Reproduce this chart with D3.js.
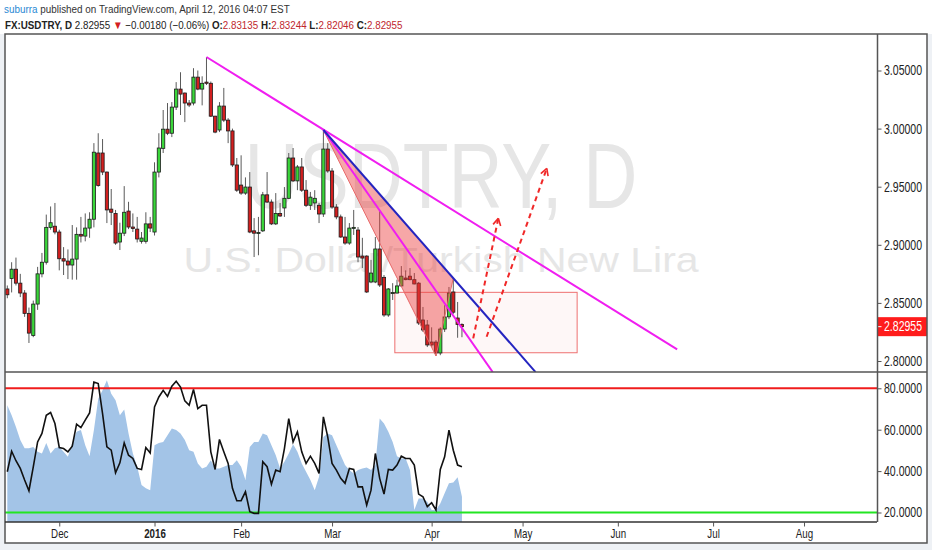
<!DOCTYPE html>
<html>
<head>
<meta charset="utf-8">
<script src="https://cdn.jsdelivr.net/npm/d3@7"></script>
<style>
  html, body { margin: 0; padding: 0; background: #eef1f5; }
  svg { display: block; }
</style>
</head>
<body>
<svg id="chart" width="932" height="550"></svg>
<script>
// USDTRY daily candles, 13 Nov 2015 - 12 Apr 2016

const FIRST_DAY = "2015-11-13";
const LAST_DAY = "2016-08-31";
const HOLIDAYS = ["2015-12-25", "2016-01-01"];

const OPEN = [
  2.862, 2.871, 2.879, 2.867, 2.8585, 2.841, 2.822, 2.849, 2.875, 2.885,
  2.915, 2.916, 2.911, 2.888, 2.886, 2.8826, 2.8877, 2.909, 2.9075, 2.9144,
  2.922, 2.979, 2.979, 2.9626, 2.9307, 2.927, 2.9024, 2.910, 2.929, 2.9153,
  2.9135, 2.903, 2.903, 2.918, 2.911, 2.9626, 2.983, 2.9995, 2.996, 3.0185,
  3.034, 3.0306, 3.022, 3.022, 3.0443, 3.034, 3.040, 3.039, 3.0107, 2.9988,
  3.0194, 3.0073, 2.998, 2.9687, 2.9514, 2.9445, 2.9497, 2.912, 2.910, 2.912,
  2.943, 2.9368, 2.918, 2.927, 2.9317, 2.940, 2.9747, 2.955, 2.967, 2.947,
  2.934, 2.936, 2.934, 2.9265, 2.9824, 2.9635, 2.9325, 2.924, 2.9067, 2.9015,
  2.9144, 2.9127, 2.8903, 2.8903, 2.868, 2.868, 2.8964, 2.872, 2.8396, 2.858,
  2.8585, 2.8646, 2.8714, 2.873, 2.870, 2.867, 2.8353, 2.831, 2.8163, 2.8163,
  2.8069, 2.8275, 2.838, 2.8594, 2.837, 2.83135
];
const HIGH = [
  2.865, 2.885, 2.889, 2.875, 2.861, 2.846, 2.852, 2.881, 2.893, 2.926,
  2.933, 2.936, 2.913, 2.898, 2.896, 2.917, 2.915, 2.924, 2.927, 2.928,
  2.9875, 2.996, 2.991, 2.963, 2.948, 2.930, 2.919, 2.9505, 2.937, 2.927,
  2.924, 2.911, 2.928, 2.924, 2.971, 2.996, 3.016, 3.022, 3.0228, 3.040,
  3.0485, 3.031, 3.0246, 3.052, 3.050, 3.045, 3.0616, 3.0405, 3.011, 3.0228,
  3.035, 3.009, 3.000, 2.9747, 2.977, 2.958, 2.9626, 2.923, 2.924, 2.9455,
  2.9626, 2.939, 2.9445, 2.936, 2.9497, 2.979, 2.9833, 2.9687, 2.9747, 2.9557,
  2.9455, 2.947, 2.936, 2.9988, 2.9875, 2.966, 2.935, 2.926, 2.924, 2.9187,
  2.930, 2.9153, 2.906, 2.891, 2.887, 2.9067, 2.929, 2.874, 2.8628, 2.867,
  2.870, 2.8817, 2.878, 2.880, 2.8757, 2.868, 2.8465, 2.8353, 2.829, 2.818,
  2.829, 2.848, 2.8637, 2.870, 2.8508, 2.83244
];
const LOW = [
  2.854, 2.859, 2.865, 2.855, 2.838, 2.8155, 2.8205, 2.844, 2.872, 2.883,
  2.913, 2.909, 2.878, 2.874, 2.8705, 2.870, 2.870, 2.902, 2.903, 2.906,
  2.915, 2.950, 2.960, 2.9187, 2.917, 2.900, 2.8955, 2.9075, 2.9135, 2.911,
  2.902, 2.901, 2.901, 2.911, 2.908, 2.958, 2.979, 2.9944, 2.9927, 3.016,
  3.0117, 3.0056, 3.0185, 3.020, 3.033, 3.020, 3.0375, 3.010, 2.996, 2.997,
  3.0056, 2.9875, 2.967, 2.9455, 2.943, 2.943, 2.910, 2.8895, 2.891, 2.911,
  2.936, 2.917, 2.917, 2.924, 2.924, 2.9395, 2.954, 2.947, 2.9455, 2.9325,
  2.930, 2.930, 2.9187, 2.924, 2.962, 2.931, 2.922, 2.906, 2.900, 2.900,
  2.9085, 2.885, 2.880, 2.8585, 2.867, 2.867, 2.8637, 2.838, 2.838, 2.8525,
  2.858, 2.8637, 2.8695, 2.8695, 2.866, 2.831, 2.825, 2.812, 2.812, 2.8043,
  2.805, 2.825, 2.836, 2.8405, 2.820, 2.82046
];
const CLOSE = [
  2.857, 2.879, 2.867, 2.8585, 2.841, 2.824, 2.849, 2.875, 2.885, 2.915,
  2.919, 2.911, 2.888, 2.886, 2.8826, 2.8877, 2.909, 2.9075, 2.9144, 2.922,
  2.9797, 2.951, 2.9626, 2.930, 2.928, 2.9015, 2.910, 2.928, 2.9153, 2.914,
  2.905, 2.9058, 2.918, 2.9144, 2.9626, 2.9833, 2.9995, 2.996, 3.0185, 3.034,
  3.0297, 3.022, 3.0203, 3.0443, 3.034, 3.039, 3.039, 3.0107, 2.997, 3.0194,
  3.0073, 2.998, 2.9687, 2.947, 2.9445, 2.9497, 2.911, 2.910, 2.9105, 2.943,
  2.9368, 2.918, 2.927, 2.9248, 2.940, 2.9747, 2.955, 2.967, 2.947, 2.934,
  2.941, 2.940, 2.9265, 2.9824, 2.9635, 2.9325, 2.924, 2.9067, 2.9015, 2.9144,
  2.915, 2.8895, 2.8886, 2.8594, 2.8757, 2.8964, 2.8654, 2.8396, 2.862, 2.859,
  2.8646, 2.873, 2.870, 2.870, 2.8663, 2.8327, 2.8267, 2.8138, 2.8138, 2.8069,
  2.8275, 2.8379, 2.8585, 2.842, 2.8315, 2.82955
];

// oscillator pane: black line and blue filled series
const OSC_LINE = [
  39.7, 49.6, 45, 41.3, 35.7, 30.5, 42, 54.1, 58.2, 67,
  68.3, 63, 51.4, 50.9, 49.3, 52, 62.7, 61, 64.6, 68.1,
  83, 82.3, 67.8, 51.7, 50.1, 39.2, 44, 53.6, 47.7, 46.1,
  41.3, 40.8, 51.4, 48.8, 71, 75.8, 79, 76.1, 81, 83.4,
  80.6, 73.9, 71.8, 79.4, 70.2, 71.8, 71.8, 49.3, 40.8, 55.3,
  49.3, 43.7, 31.7, 25.7, 25.7, 30, 20.4, 19.6, 19.6, 44.5,
  42.1, 33.7, 40.5, 39.7, 50.9, 65.4, 54.1, 59, 49.3, 43.7,
  47.2, 43.7, 38.9, 66.2, 56.5, 43.7, 40.5, 36.5, 34.1, 41.3,
  40.8, 32.4, 32.4, 23.6, 30.8, 48.5, 36.5, 28.9, 40.8, 40.5,
  42.9, 47.2, 46.1, 46.1, 42.9, 28.9, 27.6, 22.8, 24.7, 21.2,
  40.8, 46.9, 59.8, 50.1, 42.9, 42.1
];
const OSC_AREA = [
  71.8, 67, 61.3, 55, 51, 51, 51.7, 49.3, 48.5, 53.6,
  48.5, 51, 51.7, 49.3, 46.9, 53.6, 59, 59.8, 52.5, 47.2,
  59.8, 75, 79, 83.9, 77.4, 74.2, 67, 69.7, 58.2, 48.5,
  42.1, 33.3, 31.7, 30.8, 52.5, 53.6, 54.1, 57.3, 60.6, 59.8,
  58.2, 55, 50.1, 49.3, 43.7, 41.3, 42.1, 45.3, 41.3, 41.3,
  42.1, 42.9, 42.9, 45.3, 42.1, 35.7, 51.7, 54.1, 54.1, 58.2,
  57.3, 52.5, 47.7, 41.3, 44.5, 48.5, 53, 49.3, 43.7, 39.7,
  35.7, 30.8, 37.3, 56.5, 58.2, 57.3, 52.5, 47.7, 42.9, 40.5,
  38.9, 40.5, 41.3, 41.7, 40.5, 42.9, 65.4, 63, 59, 54.1,
  47.2, 46.1, 46.1, 40.5, 21.2, 26.8, 26.8, 25.2, 21.2, 21.2,
  24.4, 29.3, 34.1, 34.5, 37, 27.6
];
const OSC_LEVELS = [80, 20];

// axis ticks
const PRICE_TICKS = [2.80, 2.85, 2.90, 2.95, 3.00, 3.05];
const OSC_TICKS = [20, 40, 60, 80];
const TICK_DATES = ["2015-12-01", "2016-01-04", "2016-02-01", "2016-03-01", "2016-04-01",
                    "2016-05-02", "2016-06-01", "2016-07-01", "2016-08-01"];
const TICK_LABELS = ["Dec", "2016", "Feb", "Mar", "Apr", "May", "Jun", "Jul", "Aug"];

// drawings, anchored at [bar index, price]
const UPPER_TREND = [[46, 3.0616], [154.7, 2.8100]];
const INNER_TREND = [[73, 2.9988], [112.1, 2.7905]];
const BLUE_TREND = [[73, 2.9988], [122, 2.7905]];
const TRIANGLE = [[73, 2.9988], [99, 2.8043], [103, 2.8713]];
const BOX = [[89.5, 2.8591], [131.6, 2.8071]];
const ARROW_1 = [[107.6, 2.8195], [113.4, 2.9228]];
const ARROW_2 = [[110.7, 2.8209], [124.6, 2.9658]];

// header
const AUTHOR = "suburra";
const PUBLISHED = " published on TradingView.com, April 12, 2016 04:07 EST";
const SYMBOL = "USDTRY";
const INTERVAL = "D";
const DESCRIPTION = "U.S. Dollar/Turkish New Lira";
const CHANGE_TEXT = " \u22120.00180 (\u22120.06%) ";
const QUOTE_LABELS = ["O", "H", "L", "C"];
const QUOTE_VALUES = ["2.83135", "2.83244", "2.82046", "2.82955"];

const FONT = '"Liberation Sans", Arial, Helvetica, sans-serif';
const UP = "#3ad63a", DOWN = "#d21f1f";
const MAGENTA = "#f01ef0", NAVY = "#2424c0";

const W = 932, H = 550;
const L = 5, R = 877, TOP = 34, MID = 372, BOT = 522, FR = 927, FB = 543;

const parse = d3.timeParse("%Y-%m-%d"), fmt = d3.timeFormat("%Y-%m-%d");
const days = d3.timeDay.range(parse(FIRST_DAY), d3.timeDay.offset(parse(LAST_DAY), 1))
  .filter(d => d.getDay() !== 0 && d.getDay() !== 6 && !HOLIDAYS.includes(fmt(d)))
  .map(fmt);
const dayIndex = new Map(days.map((d, i) => [d, i]));

const x = d3.scaleLinear().domain([0, 200]).range([7.3, 873.3]);
const yP = d3.scaleLinear().domain([2.80, 3.05]).range([361, 70.5]);
const yO = d3.scaleLinear().domain([20, 80]).range([512.5, 388.3]);

const svg = d3.select("#chart").attr("font-family", FONT);

// squeeze a text horizontally to a given width, about anchor ax
function fitWidth(sel, ax, target) {
  const w = sel.node().getBBox().width;
  if (w > 0) sel.attr("transform", `translate(${ax},0) scale(${target / w},1) translate(${-ax},0)`);
}

// backgrounds
svg.append("rect").attr("width", W).attr("height", H).attr("fill", "#eef1f5");
svg.append("rect").attr("width", W).attr("height", TOP).attr("fill", "#ffffff");
svg.append("rect").attr("x", L).attr("y", TOP).attr("width", FR - L).attr("height", FB - TOP).attr("fill", "#ffffff");

const defs = svg.append("defs");
defs.append("clipPath").attr("id", "clipPrice").append("rect")
  .attr("x", L).attr("y", TOP).attr("width", R - L).attr("height", MID - TOP);
defs.append("clipPath").attr("id", "clipOsc").append("rect")
  .attr("x", L).attr("y", MID).attr("width", R - L).attr("height", BOT - MID);

// header
const h1 = svg.append("text").attr("x", 4).attr("y", 13.5).attr("font-size", 11.5);
h1.append("tspan").attr("fill", "#2a8ad4").text(AUTHOR);
h1.append("tspan").attr("fill", "#333").text(PUBLISHED);
fitWidth(h1, 4, 286);

const h2 = svg.append("text").attr("x", 5).attr("y", 29.3).attr("font-size", 11.5).attr("fill", "#222");
h2.append("tspan").attr("font-weight", "bold").text(`FX:${SYMBOL}, ${INTERVAL}`);
h2.append("tspan").text("  " + QUOTE_VALUES[3] + " ");
h2.append("tspan").attr("fill", "#d32020").text("\u25BC");
h2.append("tspan").text(CHANGE_TEXT);
QUOTE_LABELS.forEach((lab, k) => {
  h2.append("tspan").attr("font-weight", "bold").text((k ? " " : "") + lab + ":");
  h2.append("tspan").attr("fill", "#c0262d").text(QUOTE_VALUES[k]);
});
fitWidth(h2, 5, 398);

// watermark
const cx = (L + R) / 2;
const wm = svg.append("g").attr("clip-path", "url(#clipPrice)").attr("fill", "#e6e6e6");
const wm1 = wm.append("text").attr("x", cx).attr("y", 208).attr("text-anchor", "middle")
  .attr("font-size", 93).text(`${SYMBOL}, ${INTERVAL}`);
fitWidth(wm1, cx, 393);
const wm2 = wm.append("text").attr("x", cx).attr("y", 272).attr("text-anchor", "middle")
  .attr("font-size", 35).text(DESCRIPTION);
fitWidth(wm2, cx, 516);

// price pane
const price = svg.append("g").attr("clip-path", "url(#clipPrice)");

price.append("rect")
  .attr("x", x(BOX[0][0])).attr("y", yP(BOX[0][1]))
  .attr("width", x(BOX[1][0]) - x(BOX[0][0])).attr("height", yP(BOX[1][1]) - yP(BOX[0][1]))
  .attr("fill", "rgba(240,90,90,0.05)").attr("stroke", "#ee7070").attr("stroke-width", 1);

const idx = d3.range(OPEN.length);
price.selectAll("line.wick").data(idx).join("line").attr("class", "wick")
  .attr("x1", i => x(i)).attr("x2", i => x(i))
  .attr("y1", i => yP(HIGH[i])).attr("y2", i => yP(LOW[i]))
  .attr("stroke", "#5a5a5a").attr("stroke-width", 1);
price.selectAll("rect.body").data(idx).join("rect").attr("class", "body")
  .attr("x", i => x(i) - 1.6).attr("width", 3.2)
  .attr("y", i => yP(Math.max(OPEN[i], CLOSE[i])))
  .attr("height", i => Math.max(1, Math.abs(yP(OPEN[i]) - yP(CLOSE[i]))))
  .attr("fill", i => CLOSE[i] >= OPEN[i] ? UP : DOWN)
  .attr("stroke", "#1b1b1b").attr("stroke-width", 0.8);

const pt = d => [x(d[0]), yP(d[1])];
const line = d3.line().x(d => x(d[0])).y(d => yP(d[1]));

price.append("path").attr("d", line(TRIANGLE) + "Z")
  .attr("fill", "rgba(236,60,60,0.45)").attr("stroke", "#e86a6a").attr("stroke-width", 1);

[[UPPER_TREND, MAGENTA], [INNER_TREND, MAGENTA], [BLUE_TREND, NAVY]].forEach(([pts, col]) => {
  price.append("path").attr("d", line(pts)).attr("fill", "none")
    .attr("stroke", col).attr("stroke-width", 2);
});

[ARROW_1, ARROW_2].forEach(a => {
  const [x0, y0] = pt(a[0]), [x1, y1] = pt(a[1]);
  price.append("line").attr("x1", x0).attr("y1", y0).attr("x2", x1).attr("y2", y1)
    .attr("stroke", "#f02828").attr("stroke-width", 2).attr("stroke-dasharray", "5,4");
  const ang = Math.atan2(y1 - y0, x1 - x0);
  [0.5, -0.5].forEach(s => {
    price.append("line").attr("x1", x1).attr("y1", y1)
      .attr("x2", x1 - 8 * Math.cos(ang + s)).attr("y2", y1 - 8 * Math.sin(ang + s))
      .attr("stroke", "#f02828").attr("stroke-width", 1.6);
  });
});

// oscillator pane
const osc = svg.append("g").attr("clip-path", "url(#clipOsc)");
osc.append("path")
  .attr("d", d3.area().x((d, i) => x(i)).y0(BOT).y1(d => yO(d))(OSC_AREA))
  .attr("fill", "#a3c4e7");
osc.selectAll("line.level").data(OSC_LEVELS).join("line").attr("class", "level")
  .attr("x1", L).attr("x2", R).attr("y1", d => yO(d)).attr("y2", d => yO(d))
  .attr("stroke", (d, i) => i ? "#22e622" : "#f01c1c").attr("stroke-width", 2);
osc.append("path")
  .attr("d", d3.line().x((d, i) => x(i)).y(d => yO(d))(OSC_LINE))
  .attr("fill", "none").attr("stroke", "#111").attr("stroke-width", 1.6);

// axes
function styleRightAxis(g, width) {
  g.attr("font-family", FONT).attr("font-size", 14);
  g.select(".domain").remove();
  g.selectAll(".tick line").attr("stroke", "#555");
  g.selectAll(".tick text").attr("fill", "#222").attr("x", 6.5)
    .each(function () { fitWidth(d3.select(this), 6.5, width); });
}
const gPrice = svg.append("g").attr("transform", `translate(${R + 0.5},0)`)
  .call(d3.axisRight(yP).tickValues(PRICE_TICKS).tickFormat(d3.format(".5f")).tickSize(4).tickPadding(3));
styleRightAxis(gPrice, 38.3);
const gOsc = svg.append("g").attr("transform", `translate(${R + 0.5},0)`)
  .call(d3.axisRight(yO).tickValues(OSC_TICKS).tickFormat(d3.format(".4f")).tickSize(4).tickPadding(3));
styleRightAxis(gOsc, 38.3);

const tickIdx = TICK_DATES.map(d => dayIndex.get(d));
const gTime = svg.append("g").attr("transform", `translate(0,${BOT + 0.5})`)
  .call(d3.axisBottom(x).tickValues(tickIdx).tickFormat((d, k) => TICK_LABELS[k]).tickSize(4).tickPadding(3));
gTime.attr("font-family", FONT).attr("font-size", 12.5);
gTime.select(".domain").remove();
gTime.selectAll(".tick line").attr("stroke", "#555");
gTime.selectAll(".tick text").attr("fill", "#222")
  .attr("font-weight", (d, k) => TICK_LABELS[k] === "2016" ? "bold" : null)
  .attr("transform", "scale(0.78,1)");

// last price marker
const lastY = yP(CLOSE[CLOSE.length - 1]);
svg.append("rect").attr("x", R + 1).attr("y", lastY - 9.5).attr("width", FR - R - 1).attr("height", 19)
  .attr("fill", "#ff1c1c");
svg.append("line").attr("x1", R + 0.5).attr("x2", R + 4.5).attr("y1", lastY).attr("y2", lastY).attr("stroke", "#fff");
const lastTxt = svg.append("text").attr("x", R + 7).attr("y", lastY).attr("dy", "0.32em")
  .attr("font-size", 14).attr("fill", "#fff").text(d3.format(".5f")(CLOSE[CLOSE.length - 1]));
fitWidth(lastTxt, R + 7, 38.3);

// frame lines
const frame = svg.append("g").attr("stroke", "#555").attr("stroke-width", 1.5).attr("fill", "none");
frame.append("rect").attr("x", L).attr("y", TOP).attr("width", FR - L).attr("height", FB - TOP);
frame.append("line").attr("x1", L).attr("x2", FR).attr("y1", MID).attr("y2", MID);
frame.append("line").attr("x1", L).attr("x2", R).attr("y1", BOT).attr("y2", BOT).attr("stroke", "#333");
frame.append("line").attr("x1", R + 0.5).attr("x2", R + 0.5).attr("y1", TOP).attr("y2", BOT);
</script>
</body>
</html>
